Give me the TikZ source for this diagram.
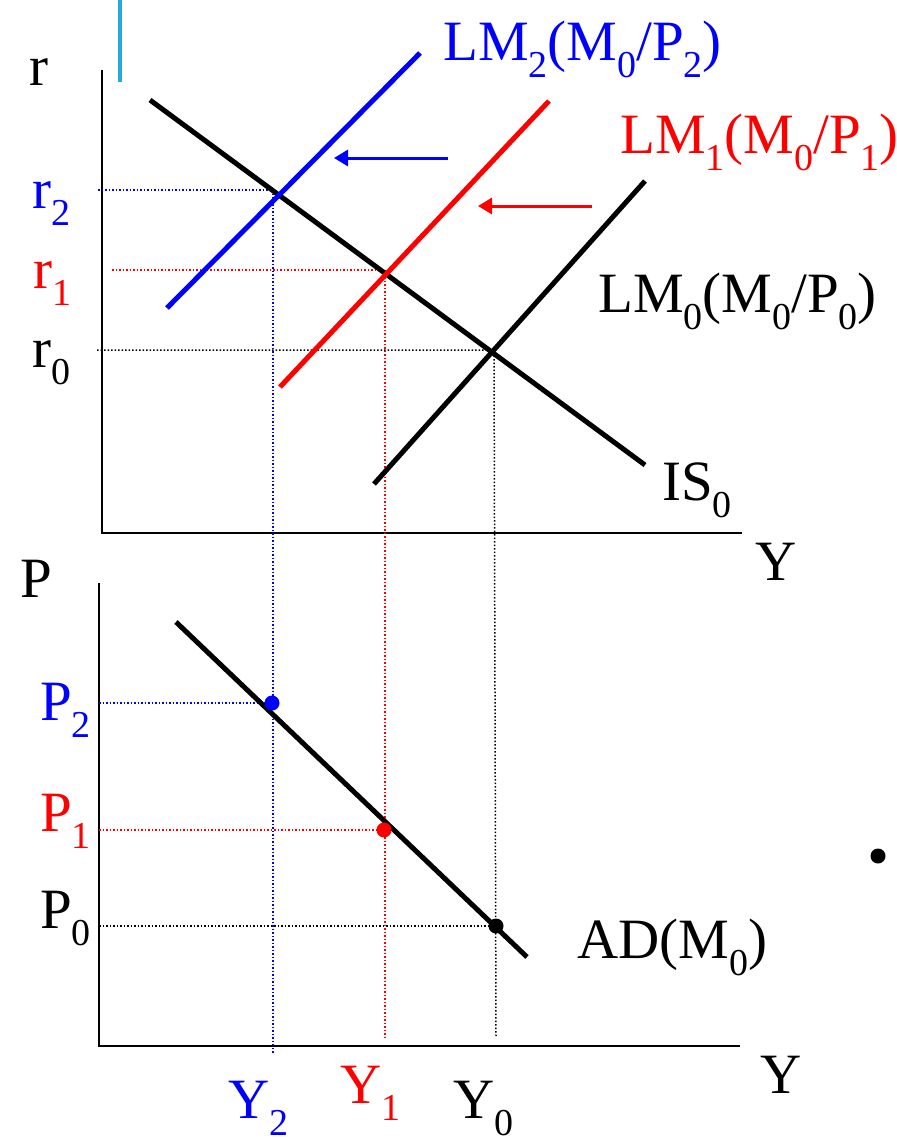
\documentclass[tikz,border=0pt]{standalone}
\usepackage{fontspec}
\setmainfont{Liberation Serif}
\usetikzlibrary{arrows.meta}
\newcommand\sbs[1]{\raisebox{-0.3em}{\fontsize{38}{40}\selectfont #1}}
\definecolor{cyanline}{RGB}{40,170,225}
\tikzset{
  curve/.style={line width=5pt},
  axisline/.style={line width=2pt},
  guide/.style={line width=1.5pt, dash pattern=on 1.5pt off 2pt},
  lbl/.style={anchor=base west, inner sep=0pt, font=\fontsize{57}{60}\selectfont},
  shiftarrow/.style={line width=3pt, -{Triangle[length=14pt,width=16pt]}},
  dotmark/.style={circle, fill, inner sep=0pt, minimum size=15pt}
}
\begin{document}
\begin{tikzpicture}[x=1pt,y=-1pt]
\useasboundingbox (0,0) rectangle (897,1138);
% ---------- top panel ----------
\coordinate (rtop) at (102,70);
\coordinate (orig1) at (102,533);
\coordinate (yend1) at (742,533);
\draw[axisline] (rtop) -- (orig1) -- (yend1);
\coordinate (cy1) at (120,0);
\coordinate (cy2) at (120,82);
\draw[cyanline, line width=4pt] (cy1) -- (cy2);

% guide lines
\coordinate (r2a) at (98,190);  \coordinate (e2) at (273,190);
\coordinate (r1a) at (112,270); \coordinate (e1) at (385,270);
\coordinate (r0a) at (97,350);  \coordinate (e0) at (494,350);
\coordinate (y2b) at (273,1054);
\coordinate (y1b) at (385,1040);
\coordinate (y0b) at (496,1037);
\draw[guide, blue] (r2a) -- (e2) -- (y2b);
\draw[guide, red] (r1a) -- (e1) -- (y1b);
\draw[guide, black] (r0a) -- (e0) -- (y0b);

% curves
\coordinate (is1) at (150,100);  \coordinate (is2) at (645,465);
\coordinate (lm2a) at (167,308); \coordinate (lm2b) at (420,53);
\coordinate (lm1a) at (280,387); \coordinate (lm1b) at (549,101);
\coordinate (lm0a) at (374,484); \coordinate (lm0b) at (645,181);
\draw[curve] (is1) -- (is2);
\draw[curve, blue] (lm2a) -- (lm2b);
\draw[curve, red] (lm1a) -- (lm1b);
\draw[curve] (lm0a) -- (lm0b);

% shift arrows
\coordinate (ba1) at (448,158); \coordinate (ba2) at (334,158);
\coordinate (ra1) at (592,206); \coordinate (ra2) at (478,206);
\draw[shiftarrow, blue] (ba1) -- (ba2);
\draw[shiftarrow, red] (ra1) -- (ra2);

% labels
\node[lbl] (lr) at (29,85) {r};
\node[lbl, blue] (lr2) at (32,208) {r\sbs{2}};
\node[lbl, red] (lr1) at (33,288) {r\sbs{1}};
\node[lbl] (lr0) at (32,367) {r\sbs{0}};
\node[lbl, blue] (llm2) at (443,60) {LM\sbs{2}(M\sbs{0}/P\sbs{2})};
\node[lbl, red] (llm1) at (620,153) {LM\sbs{1}(M\sbs{0}/P\sbs{1})};
\node[lbl] (llm0) at (598,312) {LM\sbs{0}(M\sbs{0}/P\sbs{0})};
\node[lbl] (lis) at (662,500) {IS\sbs{0}};
\node[lbl] (ly1) at (755,580) {Y};

% ---------- bottom panel ----------
\coordinate (ptop) at (99,583);
\coordinate (orig2) at (99,1046);
\coordinate (yend2) at (740,1046);
\draw[axisline] (ptop) -- (orig2) -- (yend2);

\coordinate (p2a) at (99,703);  \coordinate (d2) at (272,703);
\coordinate (p1a) at (99,830);  \coordinate (d1) at (384,830);
\coordinate (p0a) at (99,926);  \coordinate (d0) at (496,926);
\draw[guide, blue] (p2a) -- (d2);
\draw[guide, red] (p1a) -- (d1);
\draw[guide, black] (p0a) -- (d0);

\coordinate (ad1) at (176,622); \coordinate (ad2) at (527,957);
\draw[curve] (ad1) -- (ad2);

\node[dotmark, blue] (dot2) at (d2) {};
\node[dotmark, red] (dot1) at (d1) {};
\node[dotmark, black] (dot0) at (d0) {};
\node[dotmark, black] (stray) at (878,856) {};

\node[lbl] (lp) at (20,597) {P};
\node[lbl, blue] (lp2) at (40,720) {P\sbs{2}};
\node[lbl, red] (lp1) at (40,831) {P\sbs{1}};
\node[lbl] (lp0) at (40,928) {P\sbs{0}};
\node[lbl] (lad) at (577,958) {AD(M\sbs{0})};
\node[lbl] (ly2b) at (760,1093) {Y};
\node[lbl, blue] (lY2) at (228,1118) {Y\sbs{2}};
\node[lbl, red] (lY1) at (340,1103) {Y\sbs{1}};
\node[lbl] (lY0) at (453,1118) {Y\sbs{0}};
\end{tikzpicture}
\end{document}
